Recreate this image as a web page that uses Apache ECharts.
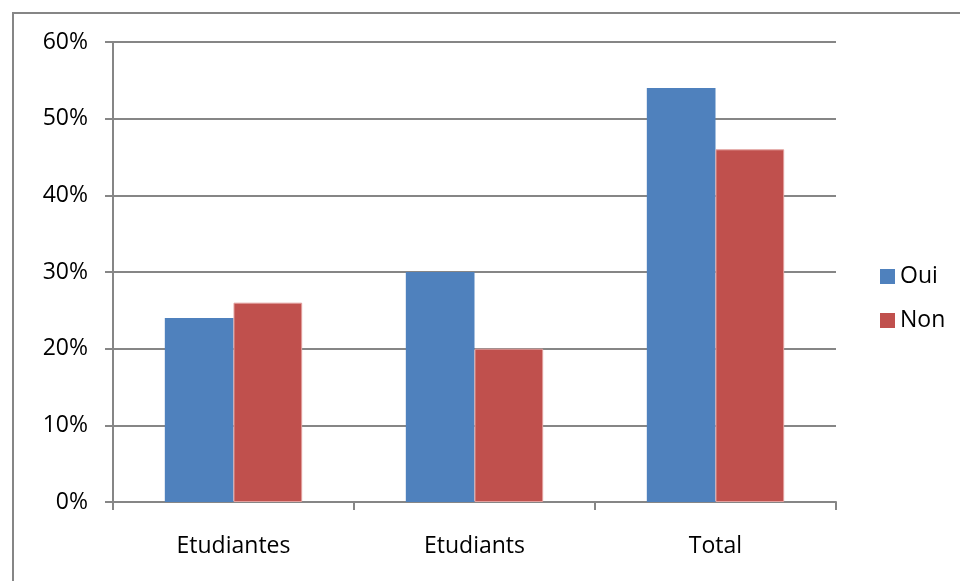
<!DOCTYPE html>
<html>
<head>
<meta charset="utf-8">
<script src="https://cdn.jsdelivr.net/npm/echarts@6/dist/echarts.min.js"></script>
<style>
html,body{margin:0;padding:0;background:#fff;}
#chart{width:960px;height:581px;}
</style>
</head>
<body>
<div id="chart"></div>
<script>
const categories = ['Etudiantes', 'Etudiants', 'Total'];
const oui = [24, 30, 54];
const non = [26, 20, 46];
const yTicks = [0, 10, 20, 30, 40, 50, 60];

const font = '"Open Sans", sans-serif';
const gray = '#868686';

const chart = echarts.init(document.getElementById('chart'));
chart.setOption({
  animation: false,
  backgroundColor: '#fff',
  graphic: [{
    type: 'rect',
    shape: { x: 13, y: 13, width: 1000, height: 1000 },
    style: { fill: 'none', stroke: gray, lineWidth: 2 }
  }],
  grid: { left: 113, right: 124, top: 42, bottom: 79, containLabel: false },
  xAxis: {
    type: 'category',
    data: categories,
    axisLine: { lineStyle: { color: gray, width: 2 } },
    axisTick: { show: true, length: 8, lineStyle: { color: gray, width: 2 } },
    axisLabel: { color: '#000', fontSize: 23, fontFamily: font, margin: 33 }
  },
  yAxis: {
    type: 'value',
    min: yTicks[0],
    max: yTicks[yTicks.length - 1],
    interval: 10,
    axisLine: { show: true, lineStyle: { color: gray, width: 2 } },
    axisTick: { show: true, length: 8, lineStyle: { color: gray, width: 2 } },
    splitLine: { lineStyle: { color: gray, width: 2 } },
    axisLabel: { color: '#000', fontSize: 23, fontFamily: font, margin: 25, formatter: '{value}%' }
  },
  legend: {
    orient: 'vertical',
    left: 875,
    top: 260,
    itemWidth: 15,
    itemHeight: 15,
    itemGap: 21,
    icon: 'rect',
    itemStyle: { borderWidth: 0 },
    textStyle: { color: '#000', fontSize: 23, fontFamily: font, padding: [0, 0, 0, 0] },
    data: ['Oui', 'Non']
  },
  series: [
    { name: 'Oui', type: 'bar', data: oui, barGap: '0%', barCategoryGap: '43%',
      itemStyle: { color: '#4f81bd' } },
    { name: 'Non', type: 'bar', data: non, barGap: '0%', barCategoryGap: '43%',
      itemStyle: { color: '#c0504d', borderColor: '#e2a09e', borderWidth: 1 } }
  ]
});
</script>
</body>
</html>
